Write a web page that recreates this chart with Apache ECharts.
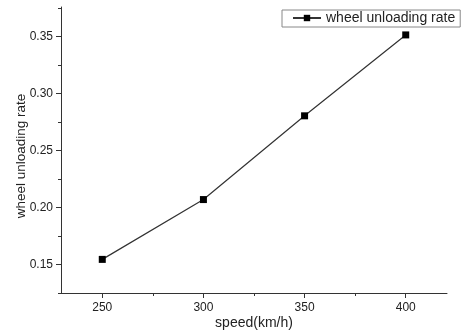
<!DOCTYPE html>
<html>
<head>
<meta charset="utf-8">
<style>
  html, body { margin: 0; padding: 0; background: #fff; }
  #chart { width: 463px; height: 331px; }
</style>
<script src="https://cdn.jsdelivr.net/npm/echarts@6/dist/echarts.min.js"></script>
</head>
<body>
<div id="chart"></div>
<script>
// Wheel unloading rate versus running speed
const speeds = [250, 300, 350, 400];
const unloadingRate = [0.1545, 0.207, 0.2805, 0.3515];

const xMajorTicks = [250, 300, 350, 400];
const xMinorTicks = [275, 325, 375];
const yMajorTicks = [0.15, 0.20, 0.25, 0.30, 0.35];
const yMinorTicks = [0.125, 0.175, 0.225, 0.275, 0.325, 0.375];

const seriesName = 'wheel unloading rate';
const xName = 'speed(km/h)';
const yName = 'wheel unloading rate';

const FONT = 'Liberation Sans, Arial, sans-serif';
const AXIS_COLOR = '#333';
const TEXT_COLOR = '#222';

const xRange = [229.6, 420.4];
const yRange = [0.125, 0.376];

const chart = echarts.init(document.getElementById('chart'), null, { renderer: 'canvas' });

function baseX(extra) {
  return Object.assign({
    type: 'value',
    min: xRange[0],
    max: xRange[1],
    splitLine: { show: false },
    axisLine: { show: true, lineStyle: { color: AXIS_COLOR, width: 1 } }
  }, extra);
}
function baseY(extra) {
  return Object.assign({
    type: 'value',
    min: yRange[0],
    max: yRange[1],
    splitLine: { show: false },
    axisLine: { show: true, lineStyle: { color: AXIS_COLOR, width: 1 } }
  }, extra);
}

chart.setOption({
  animation: false,
  backgroundColor: '#fff',
  grid: { left: 61, top: 7, right: 16, bottom: 38, containLabel: false, outerBoundsMode: 'none' },
  legend: {
    left: 282,
    top: 10,
    data: [seriesName],
    itemWidth: 28,
    itemHeight: 8,
    itemGap: 5,
    padding: [1, 5, 2, 10],
    borderColor: '#888',
    borderWidth: 1,
    borderRadius: 0,
    textStyle: { fontFamily: FONT, fontSize: 14, color: TEXT_COLOR }
  },
  xAxis: [
    baseX({
      position: 'bottom',
      name: xName,
      nameLocation: 'middle',
      nameGap: 23,
      nameMoveOverlap: false,
      nameTextStyle: { fontFamily: FONT, fontSize: 14, color: TEXT_COLOR, verticalAlign: 'top' },
      axisTick: { show: true, inside: false, length: 5, customValues: xMajorTicks,
        lineStyle: { color: AXIS_COLOR } },
      axisLabel: { show: true, margin: 9, customValues: xMajorTicks,
        fontFamily: FONT, fontSize: 12, color: TEXT_COLOR,
        formatter: v => String(v) }
    }),
    baseX({
      position: 'bottom',
      axisLine: { show: false },
      axisTick: { show: true, inside: false, length: 3, customValues: xMinorTicks,
        lineStyle: { color: AXIS_COLOR } },
      axisLabel: { show: false }
    })
  ],
  yAxis: [
    baseY({
      position: 'left',
      name: yName,
      nameLocation: 'middle',
      nameGap: 33,
      nameMoveOverlap: false,
      nameRotate: 90,
      nameTextStyle: { fontFamily: FONT, fontSize: 13.5, color: TEXT_COLOR, padding: [0, 12, 0, 0] },
      axisTick: { show: true, inside: false, length: 5, customValues: yMajorTicks,
        lineStyle: { color: AXIS_COLOR } },
      axisLabel: { show: true, margin: 8, customValues: yMajorTicks,
        fontFamily: FONT, fontSize: 12, color: TEXT_COLOR,
        formatter: v => v.toFixed(2) }
    }),
    baseY({
      position: 'left',
      axisLine: { show: false },
      axisTick: { show: true, inside: false, length: 3, customValues: yMinorTicks,
        lineStyle: { color: AXIS_COLOR } },
      axisLabel: { show: false }
    })
  ],
  series: [{
    name: seriesName,
    type: 'line',
    xAxisIndex: 0,
    yAxisIndex: 0,
    data: speeds.map((s, i) => [s, unloadingRate[i]]),
    symbol: 'rect',
    symbolSize: 7,
    showAllSymbol: true,
    lineStyle: { color: '#333', width: 1.2 },
    itemStyle: { color: '#000', borderWidth: 0 },
    emphasis: { disabled: true }
  }]
});
</script>
</body>
</html>
